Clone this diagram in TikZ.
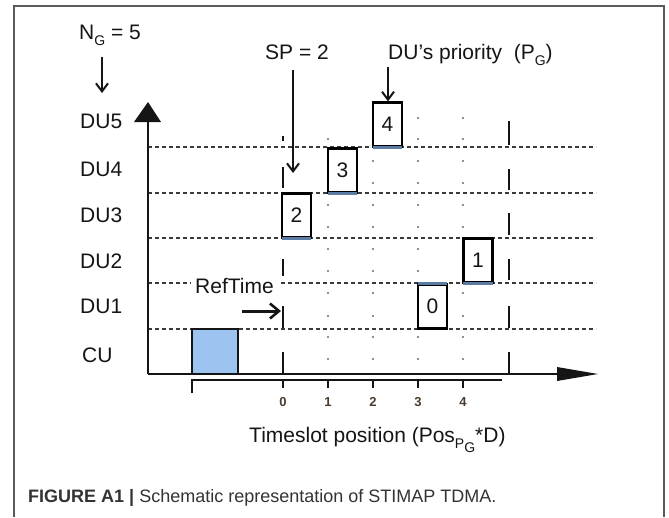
\documentclass[tikz,border=0pt]{standalone}
\usepackage{fontspec}
\setmainfont{Liberation Sans}
\usetikzlibrary{arrows.meta}

\definecolor{ink}{HTML}{151515}
\definecolor{framegray}{HTML}{5A5A5A}
\definecolor{gridgray}{HTML}{3A3A3A}
\definecolor{dotgray}{HTML}{6A6A6A}
\definecolor{cufill}{HTML}{9DC3F0}
\definecolor{stripblue}{HTML}{5B7DA3}
\definecolor{tickink}{HTML}{4A3C2E}
\definecolor{capink}{HTML}{333333}

% lowered subscript in text
\newcommand{\lowsub}[1]{\raisebox{-0.3em}{\fontsize{14}{14}\selectfont #1}}

\begin{document}
\begin{tikzpicture}[x=1pt,y=-1pt,
  lbl/.style={font=\fontsize{21}{25}\selectfont, text=ink, inner sep=0pt, anchor=base west},
  slotbox/.style={draw=black, line width=2.3pt, fill=white, minimum width=29pt,
    minimum height=44pt, inner sep=0pt, font=\fontsize{21}{25}\selectfont, text=ink},
  strip/.style={draw=stripblue, line width=2.5pt},
  arr/.style={-{Straight Barb[length=8pt,width=12pt,line width=2pt]}, line width=2pt, draw=ink},
  thickarr/.style={-{Straight Barb[length=9pt,width=15pt,line width=2.6pt]}, line width=3pt, draw=ink},
  axisline/.style={line width=2.2pt, draw=ink},
  bandline/.style={draw=gridgray, line width=1.2pt, dash pattern=on 4pt off 3pt},
  marker/.style={line width=2.4pt, draw=ink},
  ticklbl/.style={font=\fontsize{13}{15}\selectfont\bfseries, text=tickink, inner sep=0pt, anchor=base}
]
\useasboundingbox (0,0) rectangle (669,517);
\fill[white] (0,0) rectangle (669,517);

% frame (open at the bottom)
\draw[framegray, line width=1.5pt] (14,517) -- (14,6) -- (664,6) -- (664,517);

% band separators
\foreach \yy in {147,193,238,283,329}
  \draw[bandline] (148,\yy) -- (596,\yy);

% slot dots: columns 1..4, two per band
\foreach \xx/\ylist in {
  328/{139,205,227,249,271,293,316,337,359},
  373/{161,183,205,227,249,271,293,316,337,359},
  418/{118,139,161,183,205,227,249,271,337,359},
  463/{118,139,161,183,205,227,293,316,337,359}}{
  \foreach \yy in \ylist
    \fill[dotgray] (\xx,\yy) circle (1.2pt);
}

% slot-0 markers
\draw[marker, line width=1.8pt] (283,136) -- (283,141);
\foreach \ya/\yb in {167/188, 259/276, 306/328, 352/373}
  \draw[marker] (283,\ya) -- (283,\yb);

% end-of-frame markers
\foreach \ya/\yb in {121/145, 169/190, 213/235, 259/280, 306/328, 352/373}
  \draw[marker] (509,\ya) -- (509,\yb);

% CU slot
\draw[line width=2.2pt, draw=ink, fill=cufill] (192,329) rectangle (238,374);

% axes
\draw[axisline] (148,374) -- (148,121);
\fill[ink] (134,122) -- (148,102) -- (161,122) -- cycle;
\draw[axisline] (148,374) -- (558,374);
\fill[ink] (557,367) -- (598,374) -- (557,381) -- cycle;

% timeslot scale
\draw[axisline] (192,393) -- (192,380) -- (502,380);
\foreach \xx in {283,328,373,418,463}
  \draw[axisline] (\xx,380) -- (\xx,388);
\node[ticklbl] (t0) at (283,406) {0};
\node[ticklbl] (t1) at (328,406) {1};
\node[ticklbl] (t2) at (373,406) {2};
\node[ticklbl] (t3) at (418,406) {3};
\node[ticklbl] (t4) at (463,406) {4};

% priority boxes
\node[slotbox] (b4) at (387.5,124.5) {4};
\node[slotbox] (b3) at (342.5,170.5) {3};
\node[slotbox] (b2) at (296.5,215.5) {2};
\node[slotbox] (b1) at (478,260.5) {1};
\node[slotbox] (b0) at (432.5,306.5) {0};
\draw[strip] ([xshift=1pt]b4.south west) -- ([xshift=-1pt]b4.south east);
\draw[strip] ([xshift=1pt]b3.south west) -- ([xshift=-1pt]b3.south east);
\draw[strip] ([xshift=1pt]b2.south west) -- ([xshift=-1pt]b2.south east);
\draw[strip] ([xshift=1pt]b1.south west) -- ([xshift=-1pt]b1.south east);
\draw[strip] ([xshift=1pt]b0.north west) -- ([xshift=-1pt]b0.north east);

% row labels
\node[lbl] (du5) at (80,128) {DU5};
\node[lbl] (du4) at (80,176) {DU4};
\node[lbl] (du3) at (80,222) {DU3};
\node[lbl] (du2) at (80,268) {DU2};
\node[lbl] (du1) at (80,313) {DU1};
\node[lbl] (cu)  at (82,362) {CU};

% annotations
\node[lbl] (ng) at (79,39) {N\lowsub{G} = 5};
\node[lbl] (sp) at (265,59) {SP = 2};
\node[lbl] (prio) at (388,59) {DU’s priority \ (P\lowsub{G})};
\node[lbl, fill=white, inner xsep=4pt, inner ysep=2pt] (reft) at (191,293) {RefTime};
\node[lbl] (xlab) at (249,442) {Timeslot position (Pos\raisebox{-0.3em}{\fontsize{14}{14}\selectfont P\raisebox{-0.3em}{G}}*D)};

\coordinate (ngTop) at (102,57);
\coordinate (ngTip) at (102,93);
\coordinate (spTop) at (293,70);
\coordinate (spTip) at (293,173);
\coordinate (prTop) at (388,67);
\coordinate (rtTail) at (242,311);
\coordinate (rtTip) at (281,311);

\draw[arr] (ngTop) -- (ngTip);
\draw[arr] (spTop) -- (spTip);
\draw[arr] (prTop) -- (b4.north -| prTop);
\draw[thickarr] (rtTail) -- (rtTip);

% caption
\node[anchor=base west, inner sep=0pt, text=capink, font=\fontsize{18}{22}\selectfont] (cap) at (28,502)
  {\textbf{FIGURE A1} \textbf{|} Schematic representation of STIMAP TDMA.};
\end{tikzpicture}
\end{document}
